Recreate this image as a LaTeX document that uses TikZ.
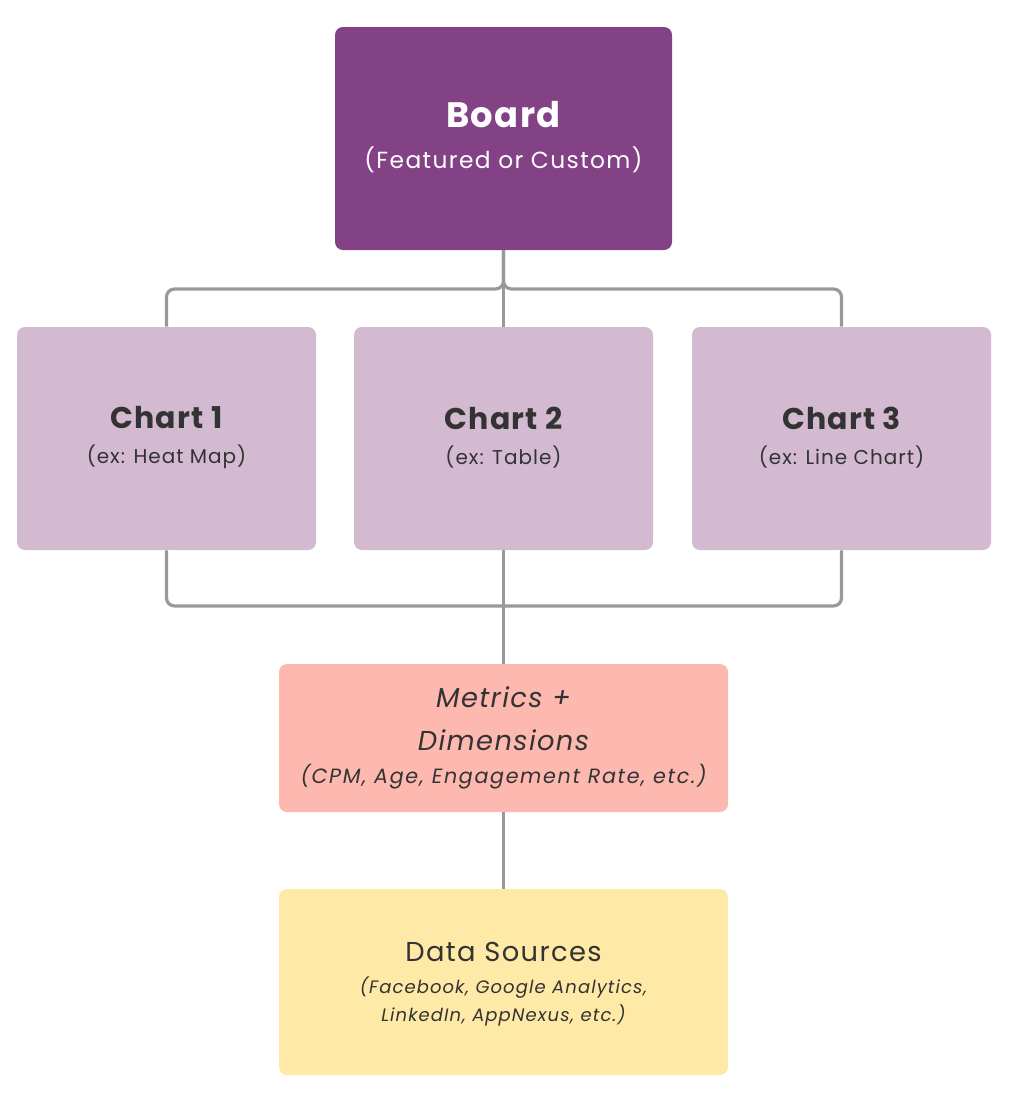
\documentclass[tikz,border=0pt]{standalone}
\usepackage{fontspec}
\setmainfont{Poppins}
\definecolor{boardc}{HTML}{834186}
\definecolor{chartc}{HTML}{D3BAD1}
\definecolor{metricc}{HTML}{FDB8AF}
\definecolor{datac}{HTML}{FEEAA6}
\definecolor{linec}{HTML}{999999}
\definecolor{txt}{HTML}{333333}
\newcommand{\fsz}[3]{\fontsize{#1}{#2}\selectfont\addfontfeatures{LetterSpace=#3}}
\tikzset{
  box/.style={draw=none, rounded corners=6pt, inner sep=0pt},
  conn/.style={draw=linec, line width=2.4pt, rounded corners=6pt},
  ttl/.style={font=\bfseries\fsz{22.5}{26}{4}, text=txt},
  sub/.style={font=\fsz{15}{18}{5}, text=txt},
}
\begin{document}
\begin{tikzpicture}[x=0.75pt,y=-0.75pt]
\useasboundingbox (0,0) rectangle (1029,1104);
% boxes
\node[box, fill=boardc, minimum width=337*0.75pt, minimum height=223*0.75pt] (board) at (503.5,138.5) {};
\node[box, fill=chartc, minimum width=299*0.75pt, minimum height=223*0.75pt] (c1) at (166.5,438.5) {};
\node[box, fill=chartc, minimum width=299*0.75pt, minimum height=223*0.75pt] (c2) at (503.5,438.5) {};
\node[box, fill=chartc, minimum width=299*0.75pt, minimum height=223*0.75pt] (c3) at (841.5,438.5) {};
\node[box, fill=metricc, minimum width=449*0.75pt, minimum height=148*0.75pt] (met) at (503.5,738) {};
\node[box, fill=datac, minimum width=449*0.75pt, minimum height=186*0.75pt] (dat) at (503.5,982) {};
% texts
\node[font=\bfseries\fsz{26.5}{30}{4}, text=white] (bt) at (503.5,115) {Board};
\node[font=\fsz{17.5}{20}{6}, text=white] (bs) at (503.5,160) {(Featured or Custom)};
\node[ttl] (t1) at (166.5,418) {Chart 1};
\node[sub] (s1) at (166.5,457) {(ex: Heat Map)};
\node[ttl] (t2) at (503.5,418) {Chart 2};
\node[sub] (s2) at (503.5,457) {(ex: Table)};
\node[ttl] (t3) at (841.5,418) {Chart 3};
\node[sub] (s3) at (841.5,457) {(ex: Line Chart)};
\node[font=\itshape\fsz{20.5}{24}{5}, text=txt] (m1) at (503.5,697) {Metrics +};
\node[font=\itshape\fsz{20.5}{24}{5}, text=txt] (m2) at (503.5,740) {Dimensions};
\node[font=\itshape\fsz{15.5}{18}{8}, text=txt] (m3) at (503.5,777) {(CPM, Age, Engagement Rate, etc.)};
\node[font=\fsz{20.5}{24}{5}, text=txt] (d1) at (503.5,952) {Data Sources};
\node[font=\itshape\fsz{13.5}{16}{6}, text=txt] (d2) at (503.5,988) {(Facebook, Google Analytics,};
\node[font=\itshape\fsz{13.5}{16}{6}, text=txt] (d3) at (503.5,1015) {LinkedIn, AppNexus, etc.)};
% connectors
\coordinate (jt) at (503.5,289);
\coordinate (jb) at (503.5,606);
\draw[conn] (board.south) -- (jt) -| (c1.north);
\draw[conn] (board.south) -- (jt) -| (c3.north);
\draw[conn] (board.south) -- (c2.north);
\draw[conn] (c1.south) |- (jb) -| (c3.south);
\draw[conn] (c2.south) -- (met.north);
\draw[conn] (met.south) -- (dat.north);
\end{tikzpicture}
\end{document}
